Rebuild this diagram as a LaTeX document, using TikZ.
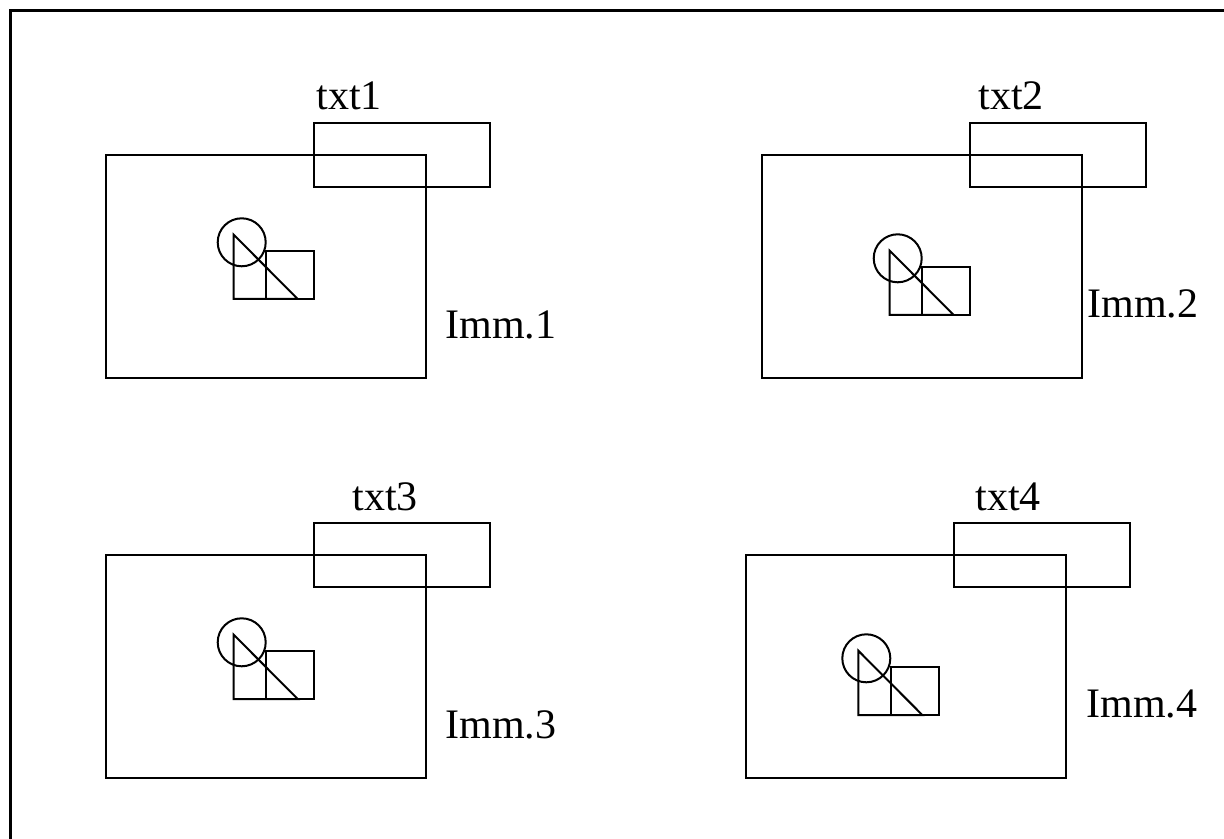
\documentclass[tikz,border=0pt]{standalone}
\usepackage{fontspec}
\setmainfont{Liberation Serif}
\usetikzlibrary{positioning}
\tikzset{
  frameline/.style={line width=1.5pt},
  thin line/.style={line width=1pt},
  imgbox/.style={draw, thin line, inner sep=0pt, outer sep=0pt, anchor=north west, minimum width=160pt, minimum height=111.5pt},
  txtbox/.style={draw, thin line, inner sep=0pt, outer sep=0pt, anchor=north west, minimum width=88pt, minimum height=31.8pt},
  sqbox/.style={draw, thin line, inner sep=0pt, outer sep=0pt, anchor=north west, minimum size=24pt},
  lens/.style={draw, thin line, circle, inner sep=0pt, outer sep=0pt, minimum size=24pt},
  lbl/.style={inner sep=0pt, anchor=base west, font=\fontsize{21}{25}\selectfont}
}

\begin{document}
\begin{tikzpicture}[x=0.5pt, y=-0.5pt]
    \useasboundingbox (0,0) rectangle (1224,839);
    \clip (0,0) rectangle (1224,839);
    \draw[frameline] (10,11) rectangle (1250,870);

    % panel number / shift of panel / shift of small figure / text x / caption x / caption y
    \foreach \n/\px/\py/\fx/\fy/\tx/\lx/\ly in {1/0/0/0/0/316/445/338,
        2/656/0/656/16/978/1087/317,
        3/0/400/0/400/352/445/738,
        4/640/400/624.6/416/975/1086/717}
    {
        \node[imgbox] (img\n) at (106+\px,155+\py) {};
        \node[txtbox] (box\n) at (314+\px,123+\py) {};
        \node[lbl] (txt\n) at (\tx,110+\py) {txt\n};
        \node[lbl] (imm\n) at (\lx,\ly) {Imm.\n};

        \begin{scope}[shift={(\fx,\fy)}]
            \node[sqbox] (sq\n) at (266,251) {};
            \node[lens] (lens\n) at (241.7,242.3) {};
            \coordinate (tri\n) at (233.7,234.7);
            \draw[thin line] (tri\n) -- (233.7,299) -- (297.7,299) -- cycle;
        \end{scope}
    }
\end{tikzpicture}
\end{document}
